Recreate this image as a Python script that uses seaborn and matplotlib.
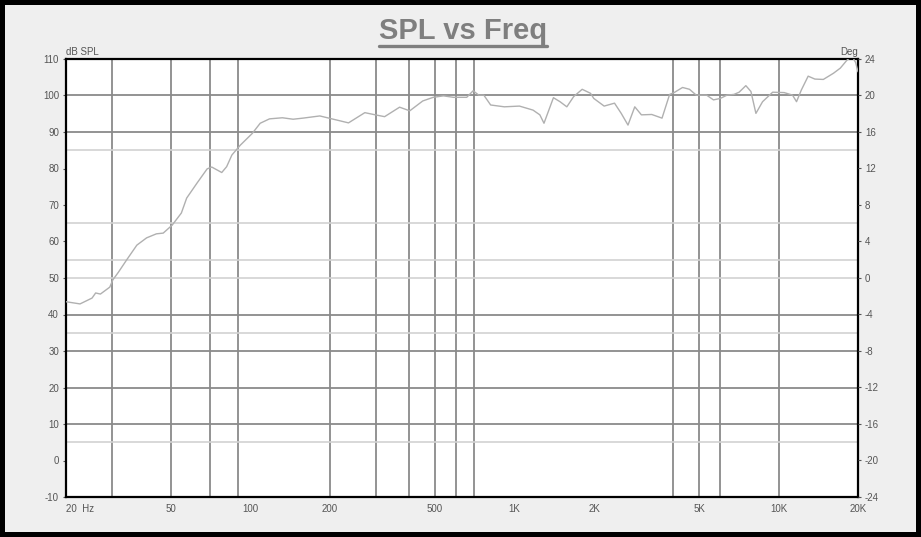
import matplotlib
matplotlib.use("Agg")
import matplotlib.pyplot as plt
import pandas as pd
import seaborn as sns
from matplotlib.lines import Line2D

# Frequency response (Hz, dB SPL)
freq_hz = [20, 22.6, 25.1, 25.9, 27.0, 29.3, 30.1, 31.6, 33.9, 37.1, 40.4, 44, 46.7,
           50.5, 54.7, 57.3, 62.7, 68.5, 71.3, 77.8, 81.2, 85, 91.5, 101.5, 108.8,
           118, 132, 145, 158, 183, 206, 235, 271, 297, 322, 367, 401, 449, 492,
           538, 587, 659, 697, 732, 765, 812, 915, 1044, 1175, 1247, 1293, 1404,
           1487, 1578, 1675, 1804, 1940, 1996, 2185, 2392, 2536, 2690, 2854, 3024,
           3310, 3620, 3868, 4022, 4330, 4600, 4880, 5340, 5670, 6020, 6380, 6780,
           7090, 7520, 7860, 8210, 8700, 9500, 10500, 11300, 11700, 12200, 12950,
           13730, 14780, 16150, 17140, 18170, 19000, 19600, 20000]
spl_db = [43.5, 42.9, 44.5, 45.9, 45.6, 47.5, 49.5, 51.6, 54.9, 59.0, 61.0, 62.1, 62.3,
          64.5, 67.8, 71.9, 76.0, 79.9, 80.4, 78.9, 80.5, 83.7, 86.4, 89.6, 92.4,
          93.6, 93.9, 93.5, 93.8, 94.4, 93.5, 92.5, 95.3, 94.7, 94.2, 96.8, 95.8, 98.5, 99.5,
          99.9, 99.5, 99.5, 101.3, 100.1, 100.1, 97.4, 96.9, 97.1, 96.0, 94.7, 92.4, 99.4,
          98.3, 96.9, 99.7, 101.7, 100.6, 99.2, 97.1, 97.9, 95.1, 91.9, 96.9, 94.7,
          94.8, 93.8, 100.3, 100.8, 102.2, 101.7, 100.1, 100.1, 98.8, 99.2, 100.1, 100.3,
          100.9, 102.7, 101.1, 95.1, 98.3, 100.9, 100.8, 100.1, 98.3, 101.5, 105.3,
          104.5, 104.4, 106.1, 107.5, 109.7, 110.8, 109.0, 106.5]

# Axis ticks and labels
x_ticks = [20, 50, 100, 200, 500, 1000, 2000, 5000, 10000, 20000]
x_labels = ["20  Hz", "50", "100", "200", "500", "1K", "2K", "5K", "10K", "20K"]
y_ticks = [110, 100, 90, 80, 70, 60, 50, 40, 30, 20, 10, 0, -10]
deg_ticks = [24, 20, 16, 12, 8, 4, 0, -4, -8, -12, -16, -20, -24]

# Grid lines that survive in the scan
v_grid = [30, 50, 70, 90, 200, 300, 400, 500, 600, 700, 4000, 5000, 6000, 10000]
h_grid_dark = [100, 90, 40, 30, 20, 10]
h_grid_light = [85, 65, 55, 50, 35, 5]

df = pd.DataFrame({"freq": freq_hz, "spl": spl_db})

sns.set_style("white")
plt.rcParams["font.family"] = ["Liberation Sans", "DejaVu Sans"]
plt.rcParams["axes.unicode_minus"] = False

fig = plt.figure(figsize=(9.21, 5.37), dpi=100, facecolor="#efefef",
                 edgecolor="black", linewidth=7)
ax = fig.add_axes([66 / 921, 1 - 497 / 537, 792 / 921, 438 / 537])
ax.set_facecolor("white")

# grid
for f in v_grid:
    ax.axvline(f, color="#8a8a8a", lw=1.3, zorder=1)
for v in h_grid_dark:
    ax.axhline(v, color="#8a8a8a", lw=1.3, zorder=1)
for v in h_grid_light:
    ax.axhline(v, color="#d2d2d2", lw=1.2, zorder=1)

# the curve
sns.lineplot(data=df, x="freq", y="spl", ax=ax, color="#b0b0b0", lw=1.0,
             zorder=3, estimator=None, sort=False)

ax.set_xscale("log")
ax.set_xlim(20, 20000)
ax.set_ylim(-10, 110)
ax.set_xticks(x_ticks)
ax.set_xticklabels(x_labels)
ax.minorticks_off()
ax.set_yticks(y_ticks)
ax.set_xlabel("")
ax.set_ylabel("")
ax.tick_params(axis="both", labelsize=7, colors="#555555", length=2, pad=3)
for s in ax.spines.values():
    s.set_color("black")
    s.set_linewidth(1.6)

# nudge the first x label like the original
lbl = ax.get_xticklabels()
lbl[0].set_horizontalalignment("left")

# right axis in degrees
ax2 = ax.twinx()
ax2.set_ylim(-24, 24)
ax2.set_yticks(deg_ticks)
ax2.set_yticklabels([str(d) for d in deg_ticks])
ax2.tick_params(axis="y", labelsize=7, colors="#555555", length=2, pad=3)
for s in ax2.spines.values():
    s.set_visible(False)

ax.text(0, 1.004, "dB SPL", transform=ax.transAxes, ha="left", va="bottom",
        fontsize=7, color="#555555")
ax.text(1, 1.004, "Deg", transform=ax.transAxes, ha="right", va="bottom",
        fontsize=7, color="#555555")

# title, underlined
title = fig.text(0.503, 0.942, "SPL vs Freq", ha="center", va="center",
                 fontsize=21, fontweight="bold", color="#7f7f7f")
fig.canvas.draw()
bb = title.get_window_extent().transformed(fig.transFigure.inverted())
fig.add_artist(Line2D([bb.x0, bb.x1], [bb.y0 - 0.002, bb.y0 - 0.002],
                      transform=fig.transFigure, color="#7f7f7f", lw=2.4))

fig.savefig("out.png", dpi=100)
